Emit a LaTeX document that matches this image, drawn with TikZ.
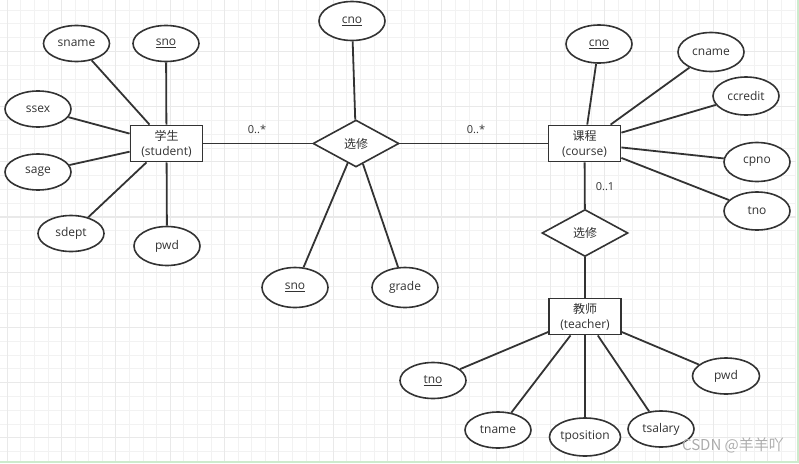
\documentclass[tikz,border=0pt]{standalone}
\usepackage{fontspec}
\setmainfont{Open Sans}
\newfontfamily\cjk{Noto Sans CJK SC}
\usetikzlibrary{shapes}
\definecolor{gridminor}{HTML}{F2F2F2}
\definecolor{gridmajor}{HTML}{E9E9E9}
\definecolor{ink}{HTML}{333333}
\definecolor{edgegreen}{HTML}{CDEBCD}

\begin{document}
\begin{tikzpicture}[x=1pt, y=-1pt,
  every node/.style={font=\fontsize{12}{15}\selectfont, text=ink},
  entity/.style={draw=ink, line width=1.8pt, fill=white, minimum width=72pt, minimum height=36pt, inner sep=0pt, align=center},
  attr/.style={ellipse, draw=ink, line width=1.6pt, fill=white, minimum width=66pt, minimum height=36pt, inner sep=0pt},
  rel/.style={diamond, aspect=2, draw=ink, line width=1.6pt, fill=white, minimum width=86pt, minimum height=47pt, inner sep=0pt},
  link/.style={draw=ink, line width=1.8pt},
  card/.style={font=\fontsize{11}{13}\selectfont},
  gridline/.style={gridminor, line width=0.9pt},
  gridthick/.style={gridmajor, line width=1.1pt}]
  \useasboundingbox (0,0) rectangle (799,463);

  % background grid
  \foreach \i in {0,...,58} \draw[gridline] ({7.3+13.58*\i},0) -- ++(0,461);
  \foreach \j in {0,...,32} \draw[gridline] (0,{10+13.8*\j}) -- ++(796,0);
  \foreach \i in {0,...,14} \draw[gridthick] ({7.3+54.32*\i},0) -- ++(0,461);
  \foreach \j in {0,...,7} \draw[gridthick] (0,{51.4+55.2*\j}) -- ++(796,0);
  \fill[edgegreen] (0,461) rectangle (799,463);
  \fill[edgegreen] (797,0) rectangle (799,463);

  % entities
  \node[entity] (student) at (166.5,143.5) {{\cjk 学生}\\(student)};
  \node[entity] (course) at (584.5,143.5) {{\cjk 课程}\\(course)};
  \node[entity] (teacher) at (585,316.5) {{\cjk 教师}\\(teacher)};

  % relationships
  \node[rel] (choose) at (356,143.5) {\cjk 选修};
  \node[rel] (teach) at (585,233) {\cjk 选修};

  % student attributes
  \node[attr] (sname) at (76.5,43.5) {sname};
  \node[attr] (sno) at (166,43.5) {\underline{sno}};
  \node[attr] (ssex) at (38,109) {ssex};
  \node[attr] (sage) at (38,172) {sage};
  \node[attr] (sdept) at (71,233.5) {sdept};
  \node[attr, minimum height=39pt] (spwd) at (167,246) {pwd};

  % relationship attributes
  \node[attr, minimum height=39pt] (rcno) at (352,21) {\underline{cno}};
  \node[attr, minimum height=40pt] (rsno) at (295,287.5) {\underline{sno}};
  \node[attr, minimum height=40pt] (grade) at (405,287.5) {grade};

  % course attributes
  \node[attr, minimum height=38pt] (cno) at (599,44) {\underline{cno}};
  \node[attr, minimum height=39pt] (cname) at (711,52) {cname};
  \node[attr, minimum height=38pt] (ccredit) at (746,96) {ccredit};
  \node[attr, minimum height=39pt] (cpno) at (757,162) {cpno};
  \node[attr, minimum height=38pt] (ctno) at (757,211) {tno};

  % teacher attributes
  \node[attr] (tno) at (433,380.5) {\underline{tno}};
  \node[attr] (tname) at (498,430) {tname};
  \node[attr, minimum width=71pt, minimum height=38pt] (tposition) at (585,437) {tposition};
  \node[attr] (tsalary) at (661,429) {tsalary};
  \node[attr, minimum width=67pt] (tpwd) at (726,376) {pwd};

  % cardinalities
  \node[card] (card1) at (257,129) {0..*};
  \node[card] (card2) at (476,129) {0..*};
  \node[card] (card3) at (605,187) {0..1};

  % connectors
  \foreach \a in {sname,sno,ssex,sage,sdept,spwd}
    \draw[link] (student) -- (\a);
  \foreach \a in {rcno,rsno,grade}
    \draw[link] (choose) -- (\a);
  \foreach \a in {cno,cname,ccredit,cpno,ctno}
    \draw[link] (course) -- (\a);
  \foreach \a in {tno,tname,tposition,tsalary,tpwd}
    \draw[link] (teacher) -- (\a);
  \draw[link] (student) -- (choose);
  \draw[link] (choose) -- (course);
  \draw[link] (course) -- (teach);
  \draw[link] (teach) -- (teacher);

  % watermark
  \node[text=gray!65, font=\fontsize{15}{17}\selectfont\cjk] (mark) at (733,445) {CSDN @羊羊吖};
\end{tikzpicture}
\end{document}
